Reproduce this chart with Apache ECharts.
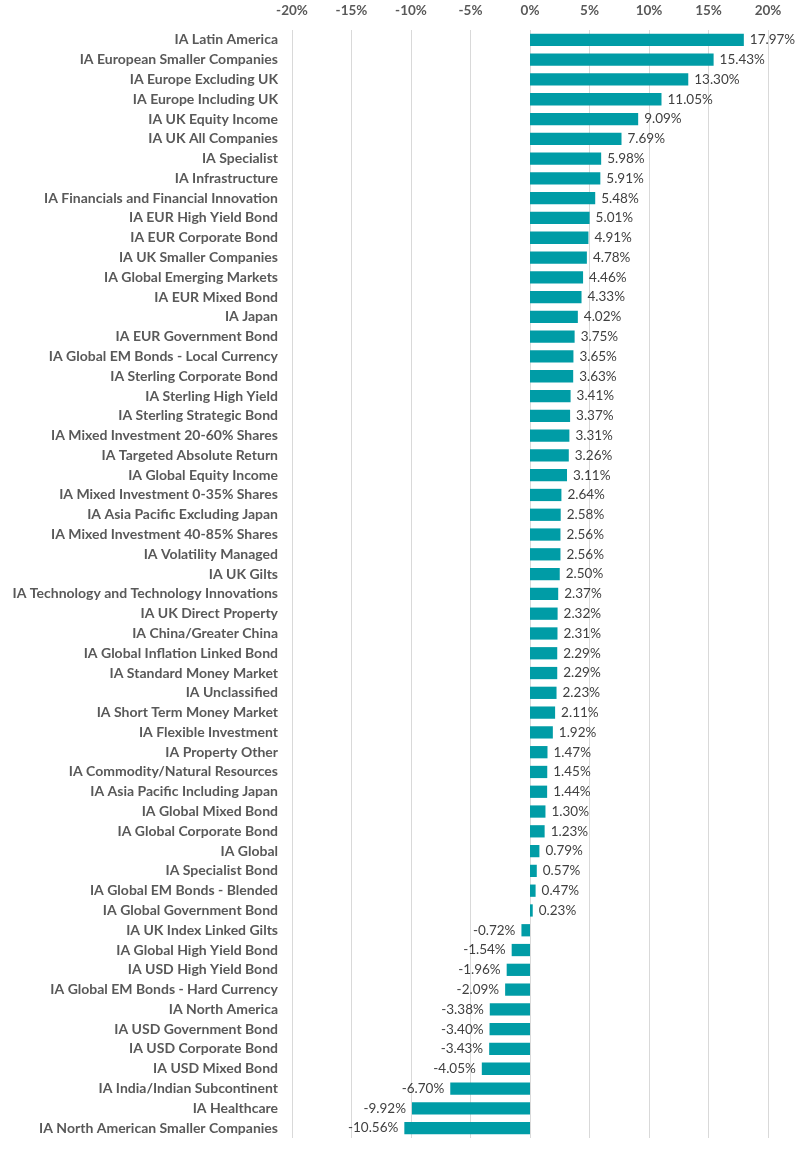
<!DOCTYPE html>
<html><head><meta charset="utf-8">
<script src="https://cdn.jsdelivr.net/npm/echarts@6/dist/echarts.min.js"></script>
<style>html,body{margin:0;padding:0;background:#fff}#c{width:800px;height:1151px}</style>
</head><body><div id="c"></div>
<script>
const categories = ["IA Latin America","IA European Smaller Companies","IA Europe Excluding UK","IA Europe Including UK","IA UK Equity Income","IA UK All Companies","IA Specialist","IA Infrastructure","IA Financials and Financial Innovation","IA EUR High Yield Bond","IA EUR Corporate Bond","IA UK Smaller Companies","IA Global Emerging Markets","IA EUR Mixed Bond","IA Japan","IA EUR Government Bond","IA Global EM Bonds - Local Currency","IA Sterling Corporate Bond","IA Sterling High Yield","IA Sterling Strategic Bond","IA Mixed Investment 20-60% Shares","IA Targeted Absolute Return","IA Global Equity Income","IA Mixed Investment 0-35% Shares","IA Asia Pacific Excluding Japan","IA Mixed Investment 40-85% Shares","IA Volatility Managed","IA UK Gilts","IA Technology and Technology Innovations","IA UK Direct Property","IA China/Greater China","IA Global Inflation Linked Bond","IA Standard Money Market","IA Unclassified","IA Short Term Money Market","IA Flexible Investment","IA Property Other","IA Commodity/Natural Resources","IA Asia Pacific Including Japan","IA Global Mixed Bond","IA Global Corporate Bond","IA Global","IA Specialist Bond","IA Global EM Bonds - Blended","IA Global Government Bond","IA UK Index Linked Gilts","IA Global High Yield Bond","IA USD High Yield Bond","IA Global EM Bonds - Hard Currency","IA North America","IA USD Government Bond","IA USD Corporate Bond","IA USD Mixed Bond","IA India/Indian Subcontinent","IA Healthcare","IA North American Smaller Companies"];
const values = [17.97,15.43,13.30,11.05,9.09,7.69,5.98,5.91,5.48,5.01,4.91,4.78,4.46,4.33,4.02,3.75,3.65,3.63,3.41,3.37,3.31,3.26,3.11,2.64,2.58,2.56,2.56,2.50,2.37,2.32,2.31,2.29,2.29,2.23,2.11,1.92,1.47,1.45,1.44,1.30,1.23,0.79,0.57,0.47,0.23,-0.72,-1.54,-1.96,-2.09,-3.38,-3.40,-3.43,-4.05,-6.70,-9.92,-10.56];
const xTicks = {min:-20, max:20, interval:5};

const chart = echarts.init(document.getElementById('c'));
chart.setOption({
  animation:false,
  grid:{left:292, right:32, top:30, bottom:13, containLabel:false},
  xAxis:{type:'value', position:'top', min:xTicks.min, max:xTicks.max, interval:xTicks.interval,
    axisLine:{show:false}, axisTick:{show:false},
    axisLabel:{formatter:v=>v+'%', color:'#595959', fontWeight:'bold', fontSize:13.5, fontFamily:'Lato', margin:12},
    splitLine:{lineStyle:{color:'#d9d9d9', width:1}}},
  yAxis:{type:'category', data:categories, inverse:true,
    axisLine:{show:false}, axisTick:{show:false},
    axisLabel:{color:'#595959', fontWeight:'bold', fontSize:14, fontFamily:'Lato', margin:14}},
  series:[{type:'bar', barCategoryGap:'38%',
    data: values.map(v=>({value:v, label:{position: v<0?'left':'right'}})),
    itemStyle:{color:'#009ca6'},
    label:{show:true, distance:6, color:'#404040', fontSize:13.5, fontFamily:'Lato', formatter:p=>p.value.toFixed(2)+'%'}}]
});
</script></body></html>
